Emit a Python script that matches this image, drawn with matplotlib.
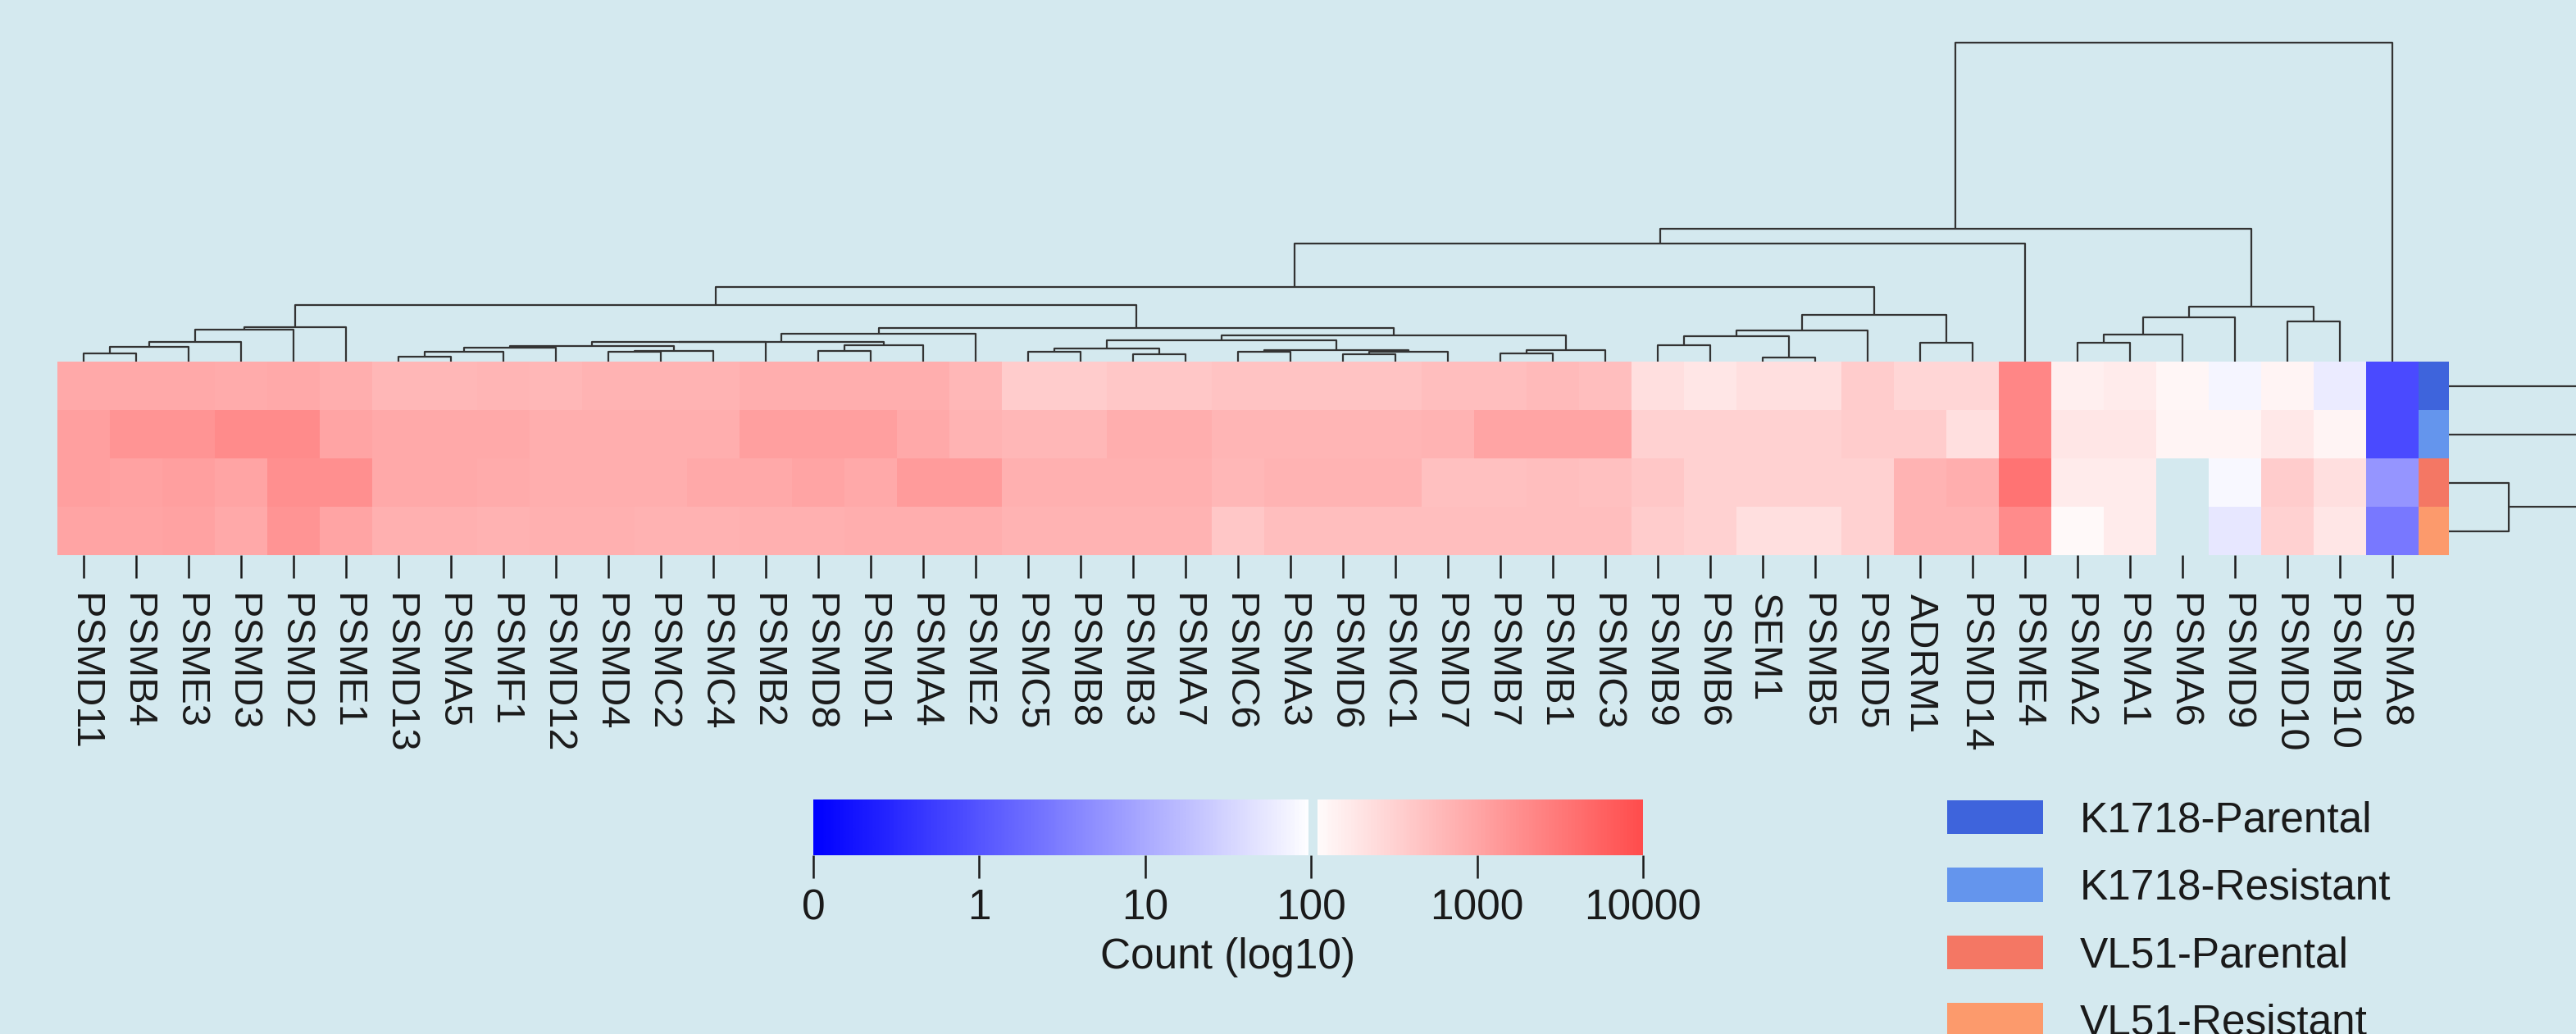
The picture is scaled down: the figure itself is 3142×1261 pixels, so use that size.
import numpy as np
import matplotlib
matplotlib.use('Agg')
import matplotlib.pyplot as plt
from matplotlib.colors import LinearSegmentedColormap, ListedColormap, Normalize
from matplotlib.patches import Patch

plt.rcParams['font.family'] = ['Liberation Sans', 'DejaVu Sans']

# Data
genes = ['PSMD11', 'PSMB4', 'PSME3', 'PSMD3', 'PSMD2', 'PSME1', 'PSMD13', 'PSMA5',
         'PSMF1', 'PSMD12', 'PSMD4', 'PSMC2', 'PSMC4', 'PSMB2', 'PSMD8', 'PSMD1',
         'PSMA4', 'PSME2', 'PSMC5', 'PSMB8', 'PSMB3', 'PSMA7', 'PSMC6', 'PSMA3',
         'PSMD6', 'PSMC1', 'PSMD7', 'PSMB7', 'PSMB1', 'PSMC3', 'PSMB9', 'PSMB6',
         'SEM1', 'PSMB5', 'PSMD5', 'ADRM1', 'PSMD14', 'PSME4', 'PSMA2', 'PSMA1',
         'PSMA6', 'PSMD9', 'PSMD10', 'PSMB10', 'PSMA8']

samples = ['K1718-Parental', 'K1718-Resistant', 'VL51-Parental', 'VL51-Resistant']
sample_colors = ['#3E64DC', '#6495ED', '#F47764', '#FC9A6C']

nan = np.nan
# position on the count scale (0 -> 0, 1 -> 1, 2 -> 10, 3 -> 100, 4 -> 1000, 5 -> 10000)
k1718_parental = [3.96, 3.96, 3.96, 3.93, 3.96, 3.90, 3.79, 3.79, 3.81, 3.79, 3.84, 3.84,
                  3.84, 3.90, 3.90, 3.90, 3.90, 3.79, 3.56, 3.56, 3.62, 3.62, 3.67, 3.67,
                  3.67, 3.67, 3.73, 3.73, 3.75, 3.73, 3.34, 3.28, 3.34, 3.34, 3.56, 3.45,
                  3.45, 4.35, 3.17, 3.22, 3.09, 2.88, 3.11, 2.76, 0.88]
k1718_resistant = [4.07, 4.18, 4.18, 4.29, 4.29, 4.01, 3.96, 3.96, 3.96, 3.90, 3.90, 3.90,
                   3.90, 4.07, 4.07, 4.07, 3.96, 3.84, 3.79, 3.79, 3.90, 3.90, 3.82, 3.82,
                   3.82, 3.82, 3.84, 4.01, 4.01, 4.01, 3.51, 3.51, 3.51, 3.51, 3.56, 3.56,
                   3.34, 4.35, 3.28, 3.28, 3.11, 3.11, 3.26, 3.11, 0.88]
vl51_parental = [4.07, 4.04, 4.07, 4.01, 4.24, 4.24, 3.96, 3.96, 3.93, 3.90, 3.90, 3.90,
                 3.96, 3.96, 4.01, 3.96, 4.12, 4.12, 3.87, 3.87, 3.87, 3.87, 3.79, 3.84,
                 3.84, 3.84, 3.71, 3.71, 3.73, 3.71, 3.62, 3.51, 3.51, 3.51, 3.51, 3.84,
                 3.90, 4.57, 3.22, 3.22, nan, 2.92, 3.56, 3.34, 1.76]
vl51_resistant = [4.01, 4.01, 4.04, 3.96, 4.18, 4.01, 3.87, 3.87, 3.85, 3.87, 3.88, 3.85,
                  3.85, 3.87, 3.87, 3.90, 3.90, 3.90, 3.84, 3.84, 3.84, 3.84, 3.62, 3.73,
                  3.73, 3.73, 3.73, 3.73, 3.73, 3.73, 3.56, 3.51, 3.34, 3.34, 3.51, 3.84,
                  3.84, 4.29, 3.06, 3.22, nan, 2.73, 3.51, 3.28, 1.41]

# linkage for genes: (child a, child b, height); ids >= 45 are earlier merges
col_merges = [
    (0, 1, 10.3), (45, 2, 17.7), (46, 3, 24), (47, 4, 38.7), (48, 5, 42),
    (6, 7, 6), (50, 8, 12), (51, 9, 17), (10, 11, 12), (53, 12, 13),
    (52, 54, 18.7), (55, 13, 23.7), (14, 15, 12.7), (57, 16, 19.7),
    (56, 58, 24.3), (59, 17, 34.3),
    (18, 19, 12), (20, 21, 8.7), (61, 62, 16), (22, 23, 12.5), (24, 25, 8.7),
    (65, 26, 12), (64, 66, 14.3), (63, 67, 26), (27, 28, 10.3), (69, 29, 14.3),
    (68, 70, 32),
    (60, 71, 41), (49, 72, 68.7),
    (30, 31, 19.7), (32, 33, 4.7), (74, 75, 31), (76, 34, 38), (35, 36, 22.7),
    (77, 78, 57),
    (73, 79, 91.3), (80, 37, 144),
    (38, 39, 22.7), (82, 40, 32.7), (83, 41, 54.3), (42, 43, 48.7), (84, 85, 67),
    (81, 86, 162), (87, 44, 389),
]
# linkage for samples
row_merges = [(2, 3, 73), (0, 1, 230), (4, 5, 420)]

cbar_ticks = [0, 1, 2, 3, 4, 5]
cbar_labels = ['0', '1', '10', '100', '1000', '10000']

bg = '#D4E9EF'
txt = '#1a1a1a'
W, H = 3142, 1261

fig = plt.figure(figsize=(W / 100, H / 100), dpi=100, facecolor=bg)


def px_axes(x0, y0, x1, y1):
    ax = fig.add_axes([x0 / W, 1 - y1 / H, (x1 - x0) / W, (y1 - y0) / H])
    ax.set_facecolor(bg)
    return ax


def dendro_segments(n, merges):
    pos = {i: i + 0.5 for i in range(n)}
    hgt = {i: 0.0 for i in range(n)}
    segs = []
    for k, (a, b, h) in enumerate(merges):
        segs.append(([pos[a], pos[a], pos[b], pos[b]], [hgt[a], h, h, hgt[b]]))
        pos[n + k] = (pos[a] + pos[b]) / 2
        hgt[n + k] = h
    return segs


cmap = LinearSegmentedColormap.from_list('cnt', [(0, '#0000FF'), (0.6, '#FFFFFF'), (1, '#FF4D4D')])
norm = Normalize(0, 5)

data = np.array([k1718_parental, k1718_resistant, vl51_parental, vl51_resistant])
n_rows, n_cols = data.shape

# heatmap
ax_hm = px_axes(70, 441, 2950, 677)
ax_hm.imshow(np.ma.masked_invalid(data), cmap=cmap, norm=norm, aspect='auto',
             extent=(0, n_cols, n_rows, 0), interpolation='nearest')
ax_hm.set_xlim(0, n_cols)
ax_hm.set_ylim(n_rows, 0)
ax_hm.set_xticks(np.arange(n_cols) + 0.5)
ax_hm.set_xticklabels(genes, rotation=270, fontsize=35, color=txt)
ax_hm.tick_params(axis='x', length=20, width=1.8, pad=14, color=txt)
ax_hm.set_yticks([])
for s in ax_hm.spines.values():
    s.set_visible(False)

# sample colour bar
ax_side = px_axes(2950, 441, 2987, 677)
ax_side.imshow(np.arange(n_rows).reshape(n_rows, 1), cmap=ListedColormap(sample_colors),
               aspect='auto', extent=(0, 1, n_rows, 0), interpolation='nearest')
ax_side.axis('off')

# gene dendrogram
ax_cd = px_axes(70, 0, 2950, 441)
for xs, ys in dendro_segments(n_cols, col_merges):
    ax_cd.plot(xs, ys, color='#333333', lw=1.6, solid_capstyle='butt')
ax_cd.set_xlim(0, n_cols)
ax_cd.set_ylim(0, 441)
ax_cd.axis('off')

# sample dendrogram
ax_rd = px_axes(2987, 441, 3142, 677)
for ys, xs in dendro_segments(n_rows, row_merges):
    ax_rd.plot(xs, ys, color='#333333', lw=1.6, solid_capstyle='butt')
ax_rd.set_xlim(0, 155)
ax_rd.set_ylim(n_rows, 0)
ax_rd.axis('off')

# colour key
ax_cb = px_axes(992, 975, 2004, 1043)
left = np.linspace(0, 2.98, 300)[None, :]
right = np.linspace(3.04, 5, 300)[None, :]
ax_cb.imshow(left, cmap=cmap, norm=norm, aspect='auto', extent=(0, 2.98, 0, 1))
ax_cb.imshow(right, cmap=cmap, norm=norm, aspect='auto', extent=(3.04, 5, 0, 1))
ax_cb.set_xlim(0, 5)
ax_cb.set_ylim(0, 1)
ax_cb.set_xticks(cbar_ticks)
ax_cb.set_xticklabels(cbar_labels, fontsize=37, color=txt)
ax_cb.tick_params(axis='x', length=20, width=1.8, pad=9, color=txt)
ax_cb.set_yticks([])
ax_cb.set_xlabel('Count (log10)', fontsize=37, color=txt, labelpad=8)
for s in ax_cb.spines.values():
    s.set_visible(False)

# legend
handles = [Patch(facecolor=c, edgecolor='none', label=s) for s, c in zip(samples, sample_colors)]
fig.legend(handles=handles, loc='upper left', bbox_to_anchor=(2375 / W, 1 - 976 / H),
           frameon=False, fontsize=37, handlelength=2.28, handleheight=0.86,
           handletextpad=0.86, labelspacing=0.64, borderpad=0, borderaxespad=0,
           labelcolor=txt)

fig.savefig('out.png', dpi=100, facecolor=bg)
